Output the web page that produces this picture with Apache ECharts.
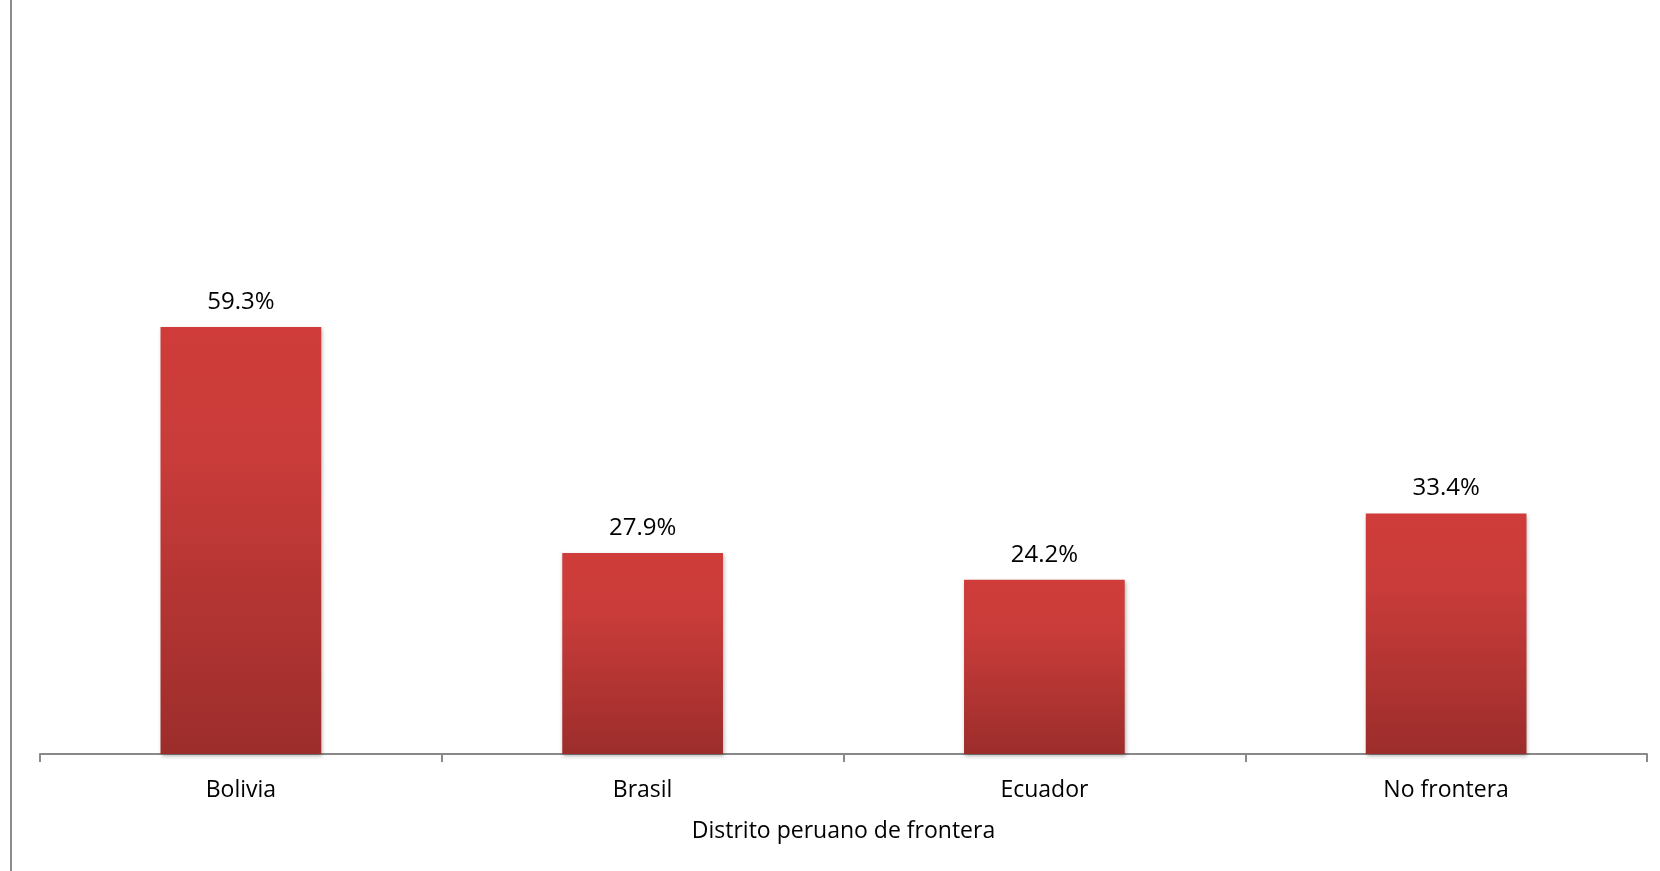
<!DOCTYPE html>
<html>
<head>
<meta charset="utf-8">
<script src="https://cdn.jsdelivr.net/npm/echarts@6/dist/echarts.min.js"></script>
<style>
html,body{margin:0;padding:0;background:#fff;}
#chart{width:1660px;height:871px;}
</style>
</head>
<body>
<div id="chart"></div>
<script>
const categories = ['Bolivia', 'Brasil', 'Ecuador', 'No frontera'];
const values = [59.3, 27.9, 24.2, 33.4];
const axisTitle = 'Distrito peruano de frontera';

const chart = echarts.init(document.getElementById('chart'), null, {renderer: 'canvas'});
const FONT = 'Open Sans';
chart.setOption({
  backgroundColor: '#ffffff',
  animation: false,
  grid: {left: 40, right: 13, top: 34, bottom: 117, containLabel: false},
  xAxis: {
    type: 'category',
    data: categories,
    name: axisTitle,
    nameLocation: 'middle',
    nameGap: 66,
    nameTextStyle: {fontFamily: FONT, fontSize: 23, color: '#000'},
    axisLine: {show: true, lineStyle: {color: '#898989', width: 2}},
    axisTick: {show: true, length: 8, lineStyle: {color: '#898989', width: 2}},
    axisLabel: {fontFamily: FONT, fontSize: 23, color: '#000', margin: 25}
  },
  yAxis: {
    type: 'value',
    min: 0,
    max: 100,
    show: false,
    splitLine: {show: false}
  },
  graphic: [{
    type: 'line',
    shape: {x1: 11, y1: 0, x2: 11, y2: 871},
    style: {stroke: '#8c8c8c', lineWidth: 2}
  }],
  series: [{
    type: 'bar',
    data: values,
    barWidth: '40%',
    itemStyle: {
      color: new echarts.graphic.LinearGradient(0, 0, 0, 1, [
        {offset: 0, color: '#cf3c39'},
        {offset: 0.3, color: '#c93c3a'},
        {offset: 1, color: '#9c2d2b'}
      ]),
      shadowColor: 'rgba(0,0,0,0.3)',
      shadowBlur: 4,
      shadowOffsetX: 1,
      shadowOffsetY: 2
    },
    label: {
      show: true,
      position: 'top',
      distance: 13,
      fontFamily: FONT,
      fontSize: 24,
      color: '#000',
      formatter: p => p.value.toFixed(1) + '%'
    }
  }]
});
</script>
</body>
</html>
